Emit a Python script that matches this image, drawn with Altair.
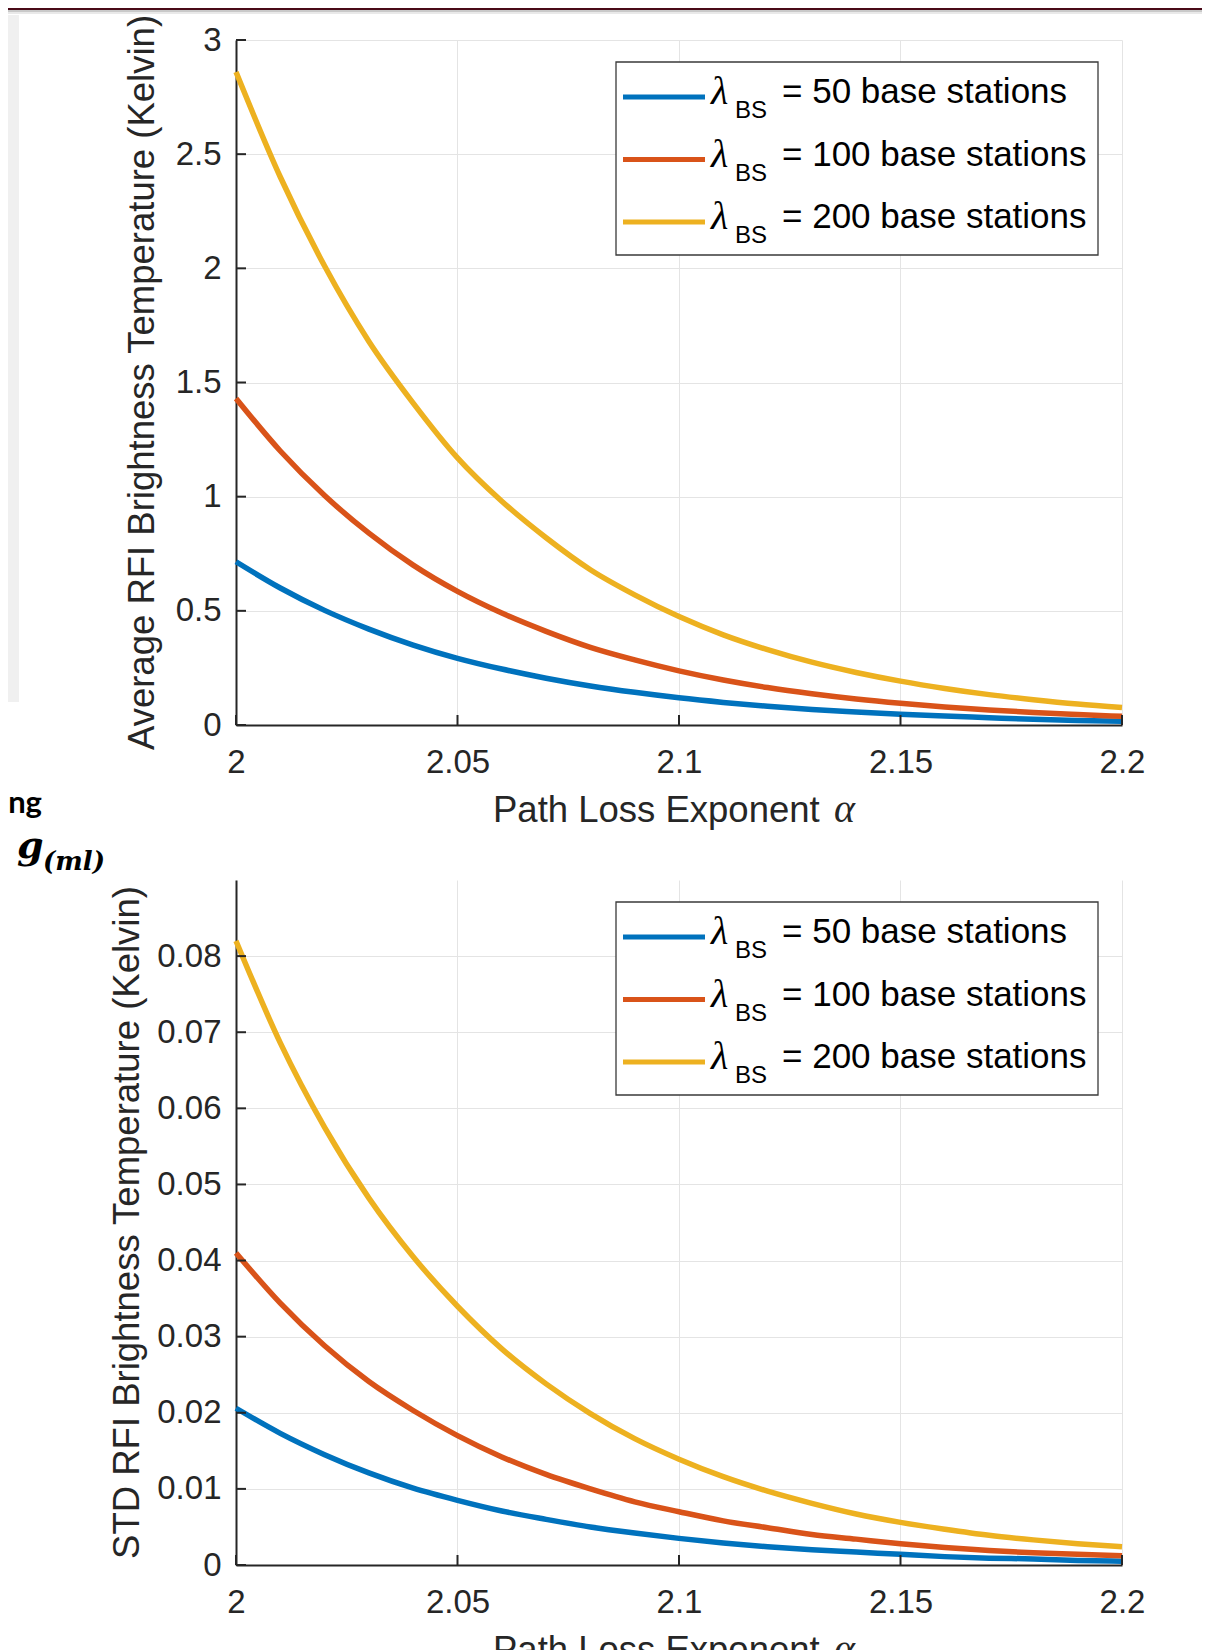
import altair as alt
import pandas as pd

# ---------------- data ----------------
SERIES = ["50", "100", "200"]
COLORS = ["#0072BD", "#D95319", "#EDB120"]
LEGEND_TEXT = ["= 50 base stations", "= 100 base stations", "= 200 base stations"]

X_TICKS = [2.0, 2.05, 2.1, 2.15, 2.2]
ALPHA = [2.00, 2.01, 2.02, 2.03, 2.04, 2.05, 2.06, 2.07, 2.08, 2.09, 2.10,
         2.11, 2.12, 2.13, 2.14, 2.15, 2.16, 2.17, 2.18, 2.19, 2.20]

# top panel: average RFI brightness temperature (Kelvin)
AVG_50 = [0.715, 0.600, 0.502, 0.420, 0.350, 0.292, 0.245, 0.205, 0.171, 0.143, 0.119,
          0.099, 0.082, 0.068, 0.057, 0.047, 0.039, 0.032, 0.025, 0.020, 0.016]
AVG_100 = [1.430, 1.200, 1.005, 0.840, 0.700, 0.585, 0.490, 0.410, 0.340, 0.285, 0.237,
           0.197, 0.164, 0.137, 0.114, 0.095, 0.079, 0.066, 0.055, 0.046, 0.038]
AVG_200 = [2.86, 2.40, 2.01, 1.68, 1.41, 1.17, 0.98, 0.82, 0.68, 0.57, 0.475,
           0.395, 0.330, 0.275, 0.230, 0.192, 0.160, 0.133, 0.111, 0.092, 0.077]
AVG_Y_TICKS = [0, 0.5, 1, 1.5, 2, 2.5, 3]

# bottom panel: STD of RFI brightness temperature (Kelvin)
STD_50 = [0.0206, 0.0173, 0.0145, 0.0121, 0.0101, 0.0085, 0.0071, 0.0060, 0.0050, 0.0042, 0.0035,
          0.0029, 0.0024, 0.0020, 0.0017, 0.0014, 0.0011, 0.0009, 0.0008, 0.0006, 0.0005]
STD_100 = [0.0410, 0.0344, 0.0288, 0.0241, 0.0203, 0.0170, 0.0142, 0.0119, 0.0100, 0.0083, 0.0070,
           0.0058, 0.0049, 0.0040, 0.0034, 0.0028, 0.0023, 0.0019, 0.0016, 0.0014, 0.0012]
STD_200 = [0.0820, 0.0686, 0.0575, 0.0482, 0.0405, 0.0340, 0.0284, 0.0238, 0.0199, 0.0166, 0.0139,
           0.0116, 0.0097, 0.0081, 0.0067, 0.0056, 0.0047, 0.0039, 0.0033, 0.0028, 0.0024]
STD_Y_TICKS = [0, 0.01, 0.02, 0.03, 0.04, 0.05, 0.06, 0.07, 0.08]

# ---------------- style ----------------
W, H = 886, 685
SANS = "Liberation Sans"
SERIF = "Liberation Serif"
DARK = "#262626"
GRID = "#e4e4e4"
ONE = pd.DataFrame({"k": [0]})


def txt(text, x, y, size, font=SANS, style="normal", weight="normal", align="left",
        baseline="alphabetic", angle=0, color=DARK):
    return alt.Chart(ONE).mark_text(
        text=text, font=font, fontSize=size, fontStyle=style, fontWeight=weight,
        align=align, baseline=baseline, angle=angle, color=color
    ).encode(x=alt.value(x), y=alt.value(y))


def rect(x, x2, y, y2, fill, stroke=None, sw=0):
    kw = dict(fill=fill)
    if stroke:
        kw.update(stroke=stroke, strokeWidth=sw)
    return alt.Chart(ONE).mark_rect(**kw).encode(
        x=alt.value(x), x2=alt.value(x2), y=alt.value(y), y2=alt.value(y2))


def panel(values, ydom, yticks, yfmt, ytitle, ytitle_x, extra_before=()):
    xs = alt.Scale(domain=[2.0, 2.2], nice=False, zero=False)
    ys = alt.Scale(domain=ydom, nice=False, zero=False)
    xaxis = alt.Axis(
        values=X_TICKS, format=".2~f", labelFont=SANS, labelFontSize=33,
        labelColor=DARK, labelPadding=21, ticks=False, domainColor=DARK,
        domainWidth=2, grid=True, gridColor=GRID, gridWidth=1, title=None,
        labelFlush=False, labelOverlap=False)
    yaxis = alt.Axis(
        values=yticks, format=yfmt, labelFont=SANS, labelFontSize=33,
        labelColor=DARK, labelPadding=15, ticks=False, domainColor=DARK,
        domainWidth=2, grid=True, gridColor=GRID, gridWidth=1, title=None,
        labelFlush=False, labelOverlap=False)
    layers = list(extra_before)

    for i, v in enumerate(values):
        df = pd.DataFrame({"alpha": ALPHA, "value": v})
        layers.append(alt.Chart(df).mark_line(
            color=COLORS[i], strokeWidth=5.5, interpolate="monotone").encode(
            x=alt.X("alpha:Q", scale=xs, axis=xaxis),
            y=alt.Y("value:Q", scale=ys, axis=yaxis)))

    # inward pointing ticks (MATLAB style)
    ytd = pd.DataFrame({"value": yticks})
    layers.append(alt.Chart(ytd).mark_rule(color=DARK, strokeWidth=2).encode(
        y=alt.Y("value:Q", scale=ys, axis=yaxis), x=alt.value(0), x2=alt.value(10)))
    xtd = pd.DataFrame({"alpha": X_TICKS})
    layers.append(alt.Chart(xtd).mark_rule(color=DARK, strokeWidth=2).encode(
        x=alt.X("alpha:Q", scale=xs, axis=xaxis), y=alt.value(H), y2=alt.value(H - 10)))

    # legend
    layers.append(rect(380, 862, 22, 215, "white", "#3a3a3a", 1.3))
    for i in range(3):
        dy = i * 62.5
        layers.append(alt.Chart(ONE).mark_rule(color=COLORS[i], strokeWidth=5).encode(
            x=alt.value(387), x2=alt.value(469), y=alt.value(57 + dy)))
        layers.append(txt("λ", 475, 64 + dy, 40, font=SERIF, style="italic", color="black"))
        layers.append(txt("BS", 499, 78 + dy, 24, color="black"))
        layers.append(txt(LEGEND_TEXT[i], 546, 63 + dy, 35, color="black"))

    # axis titles
    layers.append(txt(ytitle, ytitle_x, H / 2, 36.5, align="center", baseline="middle",
                      angle=270))
    layers.append(txt("Path Loss Exponent", 257, 782, 36.5))
    layers.append(txt("α", 598, 782, 40, font=SERIF, style="italic"))

    return alt.layer(*layers).properties(width=W, height=H)


# slide decorations around the figure (top chart coordinates)
slide_bits = [
    rect(-228, 966, -32, -30, "#4a0a18"),
    rect(-228, 966, -30, -28, "#c9c9c9"),
    rect(-228, 966, -28, -26, "#e9e9e9"),
    rect(-228, -217, -25, 662, "#f0f0f0"),
    txt("ng", -194, 773, 31, font="Lato", weight="bold", align="right", color="black"),
    txt("g", -219, 818, 38, font="DejaVu Serif", style="italic", weight="bold", color="black"),
    txt("(ml)", -193, 830, 26, font="DejaVu Serif", style="italic", weight="bold", color="black"),
]

top = panel([AVG_50, AVG_100, AVG_200], [0, 3], AVG_Y_TICKS, ".1~f",
            "Average RFI Brightness Temperature (Kelvin)", -93, extra_before=slide_bits)
bottom = panel([STD_50, STD_100, STD_200], [0, 0.09], STD_Y_TICKS, ".2~f",
               "STD RFI Brightness Temperature (Kelvin)", -108)

chart = alt.vconcat(top, bottom, spacing=155, bounds="flush").properties(
    padding=0, background="white"
).configure_view(stroke=None)

chart.save("out.html", embed_options={"renderer": "svg", "actions": False})
